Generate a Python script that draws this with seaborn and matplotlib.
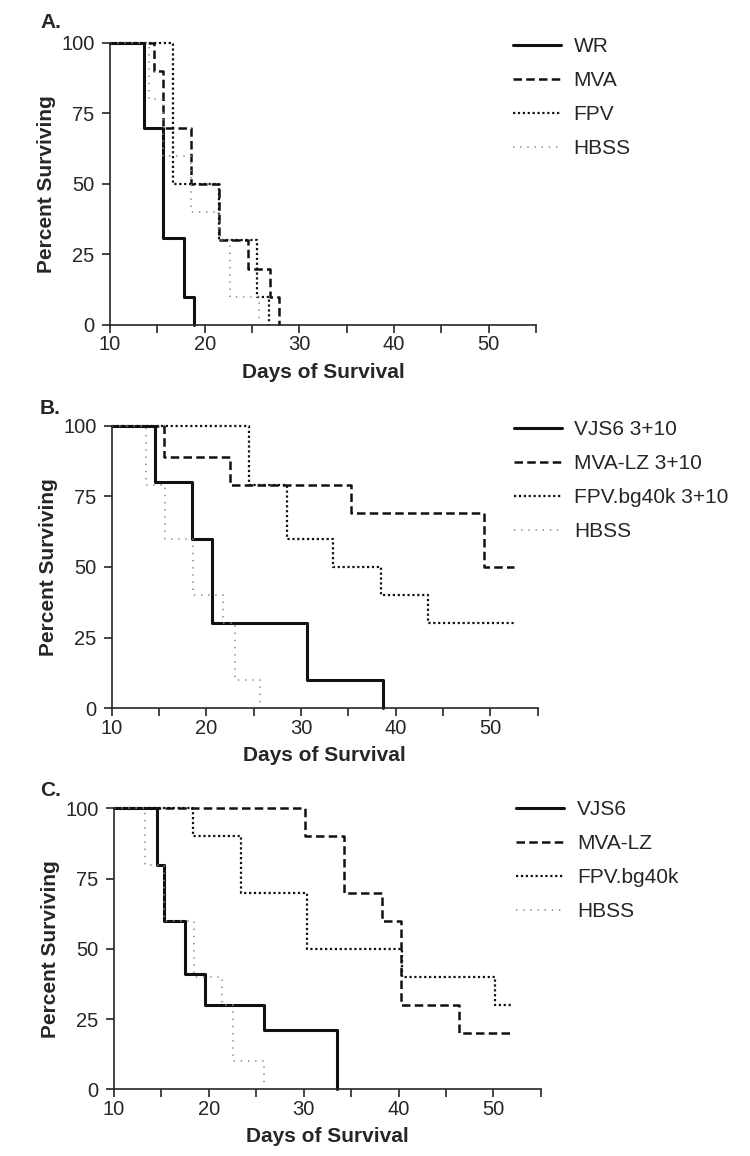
"""Survival curves for three vaccination experiments (panels A-C)."""
import matplotlib

matplotlib.use("Agg")
import matplotlib.pyplot as plt
import pandas as pd
import seaborn as sns

# ---- panel A ----
A_GROUPS = ["WR", "MVA", "FPV", "HBSS"]
A_WR_DAYS = [10, 13.6, 15.6, 17.8, 18.9]
A_WR_PCT = [100, 70, 31, 10, 0]
A_MVA_DAYS = [10, 14.6, 15.6, 18.6, 21.5, 24.6, 26.9, 27.9]
A_MVA_PCT = [100, 90, 70, 50, 30, 20, 10, 0]
A_FPV_DAYS = [10, 16.6, 21.5, 25.5, 26.8]
A_FPV_PCT = [100, 50, 30, 10, 0]
A_HBSS_DAYS = [10, 14.1, 15.6, 18.6, 21.5, 22.7, 25.7]
A_HBSS_PCT = [100, 80, 60, 40, 30, 10, 0]

# ---- panel B ----
B_GROUPS = ["VJS6 3+10", "MVA-LZ 3+10", "FPV.bg40k 3+10", "HBSS"]
B_VJS6_DAYS = [10, 14.6, 18.5, 20.6, 30.6, 38.7]
B_VJS6_PCT = [100, 80, 60, 30, 10, 0]
B_MVA_DAYS = [10, 15.5, 22.5, 35.3, 49.3, 52.5]
B_MVA_PCT = [100, 89, 79, 69, 50, 50]
B_FPV_DAYS = [10, 24.5, 28.5, 33.4, 38.4, 43.4, 52.5]
B_FPV_PCT = [100, 79, 60, 50, 40, 30, 30]
B_HBSS_DAYS = [10, 13.6, 15.6, 18.6, 21.8, 23.0, 25.7]
B_HBSS_PCT = [100, 79, 60, 40, 30, 10, 0]

# ---- panel C ----
C_GROUPS = ["VJS6", "MVA-LZ", "FPV.bg40k", "HBSS"]
C_VJS6_DAYS = [10, 14.5, 15.3, 17.5, 19.6, 25.8, 33.5]
C_VJS6_PCT = [100, 80, 60, 41, 30, 21, 0]
C_MVA_DAYS = [10, 30.1, 34.3, 38.3, 40.3, 46.4, 52.1]
C_MVA_PCT = [100, 90, 70, 60, 30, 20, 20]
C_FPV_DAYS = [10, 18.3, 23.4, 30.3, 40.4, 50.2, 52.1]
C_FPV_PCT = [100, 90, 70, 50, 40, 30, 30]
C_HBSS_DAYS = [10, 13.3, 15.3, 18.4, 21.4, 22.5, 25.8]
C_HBSS_PCT = [100, 80, 60, 40, 30, 10, 0]

X_TICKS = [10, 15, 20, 25, 30, 35, 40, 45, 50, 55]
X_TICK_LABELS = ["10", "", "20", "", "30", "", "40", "", "50", ""]
Y_TICKS = [0, 25, 50, 75, 100]

# line look per position in the legend: solid, dashed, dotted, faint dotted
COLORS = ["#111111", "#111111", "#111111", "#8a8a8a"]
WIDTHS = [2.2, 1.8, 1.6, 1.2]
DASHES = ["", (3.4, 1.7), (1.0, 1.2), (0.8, 3.5)]


def long_table(groups, series):
    frames = [pd.DataFrame({"day": d, "pct": p, "group": g})
              for g, (d, p) in zip(groups, series)]
    return pd.concat(frames, ignore_index=True)


def panel(fig, rect, letter, letter_y, groups, series, leg_anchor):
    ax = fig.add_axes(rect)
    df = long_table(groups, series)
    sns.lineplot(data=df, x="day", y="pct", hue="group", style="group", size="group",
                 palette=dict(zip(groups, COLORS)), sizes=dict(zip(groups, WIDTHS)),
                 dashes=dict(zip(groups, DASHES)), hue_order=groups,
                 estimator=None, sort=False, drawstyle="steps-post", clip_on=False, ax=ax)
    ax.set_xlim(10, 55)
    ax.set_ylim(0, 100)
    ax.set_xticks(X_TICKS, X_TICK_LABELS)
    ax.set_yticks(Y_TICKS)
    ax.tick_params(labelsize=14.5, length=6, width=1.2, pad=1.5)
    ax.tick_params(axis="y", pad=5)
    sns.despine(ax=ax)
    for s in ("left", "bottom"):
        ax.spines[s].set_linewidth(1.2)
    ax.set_xlabel("Days of Survival", fontsize=15, fontweight="bold", labelpad=6)
    ax.set_ylabel("Percent Surviving", fontsize=15, fontweight="bold", labelpad=4)
    sns.move_legend(ax, "upper left", bbox_to_anchor=leg_anchor, frameon=False, title=None,
                    fontsize=15, handlelength=2.3, handletextpad=0.6, labelspacing=0.72,
                    borderpad=0, borderaxespad=0)
    fig.text(40 / 750, 1 - letter_y / 1156, letter, fontsize=15, fontweight="bold",
             ha="left", va="center")
    return ax


sns.set_theme(style="ticks")
plt.rcParams["font.family"] = ["Liberation Sans", "DejaVu Sans"]

fig = plt.figure(figsize=(7.5, 11.56), dpi=100)
panel(fig, [0.1467, 0.7189, 0.568, 0.244], "A.", 23, A_GROUPS,
      [(A_WR_DAYS, A_WR_PCT), (A_MVA_DAYS, A_MVA_PCT),
       (A_FPV_DAYS, A_FPV_PCT), (A_HBSS_DAYS, A_HBSS_PCT)], (0.946, 1.021))
panel(fig, [0.149, 0.3873, 0.568, 0.2445], "B.", 408, B_GROUPS,
      [(B_VJS6_DAYS, B_VJS6_PCT), (B_MVA_DAYS, B_MVA_PCT),
       (B_FPV_DAYS, B_FPV_PCT), (B_HBSS_DAYS, B_HBSS_PCT)], (0.944, 1.020))
panel(fig, [0.152, 0.0577, 0.569, 0.243], "C.", 790, C_GROUPS,
      [(C_VJS6_DAYS, C_VJS6_PCT), (C_MVA_DAYS, C_MVA_PCT),
       (C_FPV_DAYS, C_FPV_PCT), (C_HBSS_DAYS, C_HBSS_PCT)], (0.943, 1.030))

fig.savefig("out.png", dpi=100)
